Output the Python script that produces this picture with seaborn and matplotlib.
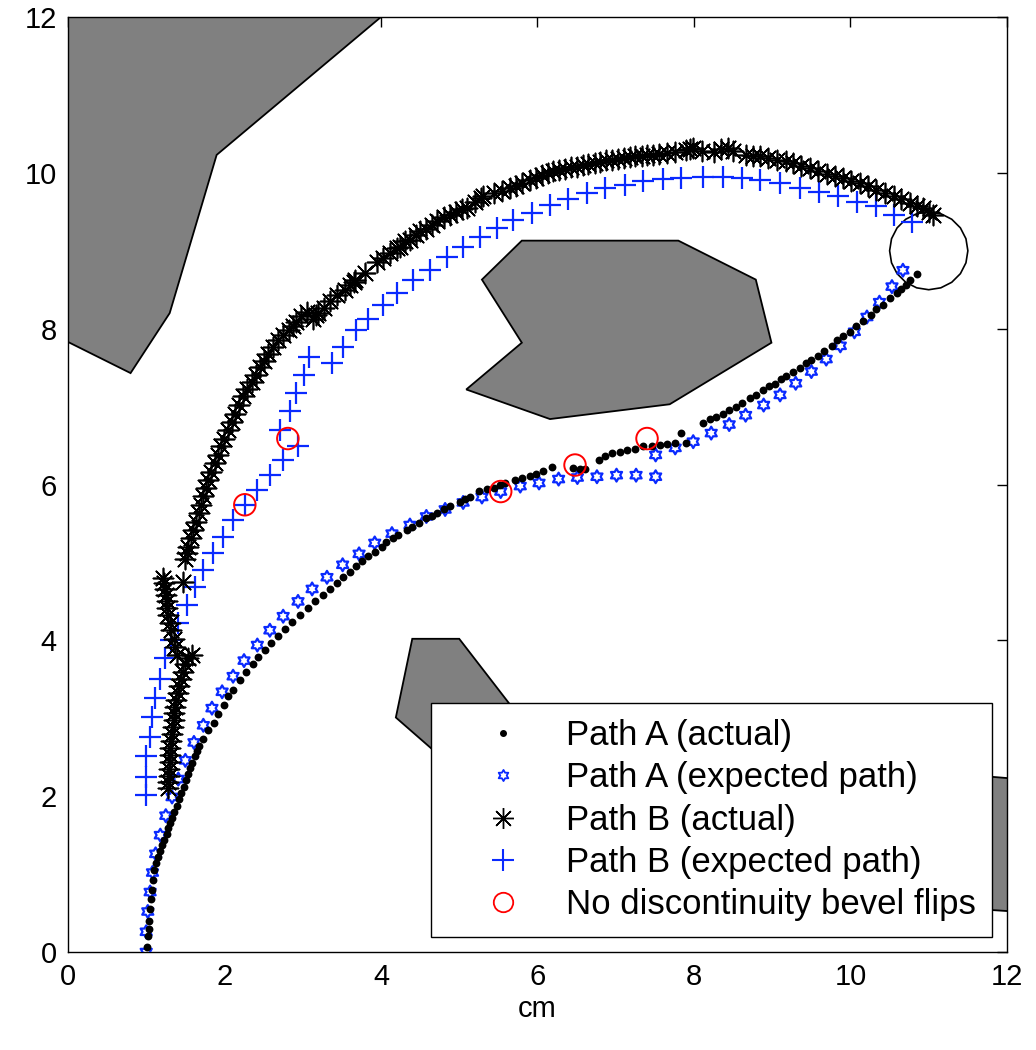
import numpy as np
import matplotlib
matplotlib.use("Agg")
import matplotlib.pyplot as plt
import matplotlib.patches as mpatches
from matplotlib.lines import Line2D
from matplotlib.path import Path
import seaborn as sns

# --- obstacles (cm) ---
obst_top_x = [0, 4.0, 1.9, 1.3, 0.8, 0]
obst_top_y = [12, 12, 10.23, 8.2, 7.43, 7.83]
obst_mid_x = [5.80, 7.80, 8.79, 8.99, 7.69, 6.16, 5.09, 5.80, 5.29]
obst_mid_y = [9.13, 9.13, 8.63, 7.82, 7.03, 6.84, 7.22, 7.82, 8.63]
obst_low_x = [4.40, 5.00, 5.90, 5.00, 4.19]
obst_low_y = [4.02, 4.02, 2.85, 2.30, 3.01]
obst_right_x = [11.79, 12.4, 12.4, 11.79]
obst_right_y = [2.25, 2.20, 0.50, 0.54]
goal_center = (11.0, 9.0)
goal_radius = 0.5

# --- Path A (actual) ---
a_act_x = [1.01, 1.02, 1.03, 1.04, 1.05, 1.06, 1.07, 1.09, 1.10, 1.13, 1.15, 1.17, 1.20, 1.23,
           1.26, 1.28, 1.31, 1.33, 1.36, 1.39, 1.42, 1.45, 1.48, 1.51, 1.54, 1.56, 1.59, 1.62,
           1.65, 1.68, 1.73, 1.79, 1.86, 1.92, 1.99, 2.05, 2.11, 2.20, 2.28, 2.36, 2.43, 2.52,
           2.60, 2.69, 2.77, 2.86, 2.96, 3.07, 3.16, 3.26, 3.35, 3.44, 3.52, 3.60, 3.68, 3.76,
           3.84, 3.92, 4.01, 4.07, 4.15, 4.22, 4.33, 4.40, 4.48, 4.58, 4.65, 4.71, 4.80, 4.88,
           5.01, 5.08, 5.14, 5.25, 5.35, 5.44, 5.52, 5.58, 5.71, 5.80, 5.90, 5.98, 6.07, 6.18,
           6.46, 6.54, 6.61,
           6.78, 6.86, 6.95, 7.05, 7.14, 7.25, 7.35, 7.46, 7.57, 7.66, 7.76, 7.84, 7.90,
           8.11, 8.20, 8.28, 8.37, 8.45, 8.54, 8.62, 8.71, 8.79, 8.88, 8.96, 9.04, 9.11, 9.18,
           9.26, 9.35, 9.43, 9.50, 9.58, 9.66, 9.76, 9.83, 9.90, 9.99, 10.07, 10.16, 10.26,
           10.33, 10.42, 10.51, 10.59, 10.65, 10.71, 10.76, 10.85]
a_act_y = [0.07, 0.20, 0.30, 0.40, 0.55, 0.68, 0.80, 0.93, 1.05, 1.14, 1.22, 1.30, 1.37, 1.44,
           1.52, 1.59, 1.66, 1.72, 1.80, 1.87, 1.96, 2.04, 2.12, 2.21, 2.28, 2.36, 2.43, 2.51,
           2.58, 2.64, 2.74, 2.85, 2.94, 3.06, 3.17, 3.28, 3.36, 3.49, 3.60, 3.70, 3.79, 3.88,
           3.96, 4.05, 4.14, 4.23, 4.32, 4.42, 4.50, 4.58, 4.66, 4.74, 4.81, 4.88, 4.95, 5.02,
           5.08, 5.14, 5.20, 5.26, 5.31, 5.35, 5.42, 5.46, 5.50, 5.57, 5.60, 5.63, 5.68, 5.72,
           5.78, 5.81, 5.84, 5.92, 5.94, 5.96, 6.00, 6.02, 6.06, 6.09, 6.11, 6.13, 6.17, 6.22,
           6.21, 6.20, 6.20,
           6.32, 6.37, 6.40, 6.42, 6.44, 6.46, 6.49, 6.50, 6.51, 6.52, 6.53, 6.66, 6.53,
           6.79, 6.84, 6.87, 6.91, 6.96, 7.00, 7.05, 7.11, 7.15, 7.21, 7.26, 7.29, 7.35, 7.39,
           7.45, 7.50, 7.56, 7.60, 7.65, 7.71, 7.78, 7.85, 7.90, 7.96, 8.03, 8.10, 8.18,
           8.25, 8.31, 8.40, 8.46, 8.51, 8.56, 8.63, 8.70]

# --- Path A (expected path) ---
a_exp_x = [1.00, 1.00, 1.02, 1.05, 1.08, 1.12, 1.18, 1.25, 1.33, 1.41, 1.50, 1.61, 1.73, 1.84,
           1.97, 2.11, 2.25, 2.42, 2.58, 2.75, 2.94, 3.12, 3.31, 3.51, 3.72, 3.92, 4.14, 4.37,
           4.58, 4.82, 5.05, 5.29, 5.53, 5.78, 6.02, 6.27, 6.51, 6.76, 7.01, 7.26, 7.51,
           7.51, 7.76, 7.99, 8.22, 8.45, 8.66, 8.89, 9.10, 9.30, 9.50, 9.69, 9.87, 10.05,
           10.21, 10.37, 10.53, 10.67]
a_exp_y = [0.00, 0.26, 0.52, 0.77, 1.02, 1.26, 1.50, 1.75, 1.99, 2.22, 2.46, 2.69, 2.91, 3.13,
           3.34, 3.54, 3.74, 3.94, 4.13, 4.31, 4.50, 4.66, 4.81, 4.97, 5.11, 5.25, 5.37, 5.48,
           5.59, 5.68, 5.77, 5.84, 5.91, 5.98, 6.02, 6.07, 6.09, 6.10, 6.12, 6.12, 6.10,
           6.38, 6.47, 6.55, 6.66, 6.77, 6.89, 7.02, 7.15, 7.30, 7.45, 7.61, 7.78, 7.96,
           8.15, 8.34, 8.54, 8.75]

# --- Path B (actual) ---
b_act_x = [1.28, 1.28, 1.29, 1.29, 1.30, 1.31, 1.31, 1.32, 1.33, 1.34, 1.35, 1.36, 1.37, 1.38,
           1.40, 1.42, 1.44, 1.47, 1.50, 1.54, 1.58,
           1.39, 1.37, 1.35, 1.32, 1.30, 1.28, 1.27, 1.26, 1.25, 1.24, 1.23, 1.22, 1.47,
           1.50, 1.52, 1.54, 1.57, 1.60, 1.63, 1.67, 1.70, 1.73, 1.76, 1.79, 1.83, 1.88, 1.92,
           1.96, 2.00, 2.05, 2.09, 2.13, 2.18, 2.24, 2.29, 2.35, 2.40, 2.45, 2.50, 2.56, 2.62,
           2.69, 2.75, 2.82, 2.87, 2.92, 2.98, 3.05, 3.13, 3.17, 3.20, 3.27, 3.35, 3.44, 3.54,
           3.60, 3.65, 3.67, 3.80, 3.95, 4.03, 4.12, 4.20, 4.24, 4.31, 4.37, 4.45, 4.50, 4.58,
           4.65, 4.72, 4.80, 4.88, 4.96, 5.03, 5.10, 5.20, 5.28, 5.31, 5.45, 5.55, 5.65, 5.72,
           5.80, 5.90, 5.98, 6.06, 6.13, 6.20, 6.28, 6.35, 6.43, 6.50, 6.58, 6.65, 6.73, 6.80,
           6.88, 6.95, 7.03, 7.10, 7.18, 7.25, 7.33, 7.40, 7.48, 7.55, 7.65, 7.76, 7.90, 7.95,
           7.99, 8.10, 8.25, 8.35, 8.44, 8.50, 8.67, 8.76, 8.84, 8.95, 9.06, 9.17, 9.27, 9.37,
           9.48, 9.59, 9.70, 9.80, 9.91, 10.01, 10.12, 10.22, 10.33, 10.44, 10.55, 10.65, 10.76,
           10.85, 10.93, 11.00, 11.06]
b_act_y = [2.10, 2.18, 2.26, 2.35, 2.44, 2.53, 2.62, 2.71, 2.80, 2.89, 2.98, 3.07, 3.15, 3.24,
           3.33, 3.42, 3.51, 3.60, 3.70, 3.78, 3.81,
           3.81, 3.92, 4.02, 4.13, 4.22, 4.32, 4.42, 4.50, 4.58, 4.66, 4.74, 4.80, 4.75,
           5.05, 5.12, 5.20, 5.31, 5.42, 5.52, 5.63, 5.74, 5.85, 5.95, 6.06, 6.16, 6.27, 6.38,
           6.49, 6.59, 6.70, 6.80, 6.91, 7.02, 7.13, 7.22, 7.32, 7.41, 7.51, 7.59, 7.68, 7.77,
           7.86, 7.92, 7.98, 8.04, 8.09, 8.16, 8.22, 8.13, 8.17, 8.20, 8.27, 8.35, 8.43, 8.50,
           8.56, 8.60, 8.63, 8.72, 8.86, 8.91, 8.97, 9.03, 9.05, 9.12, 9.14, 9.20, 9.25, 9.28,
           9.33, 9.38, 9.43, 9.46, 9.50, 9.53, 9.55, 9.62, 9.68, 9.70, 9.74, 9.77, 9.80, 9.83,
           9.87, 9.91, 9.94, 9.97, 10.00, 10.02, 10.04, 10.05, 10.07, 10.08, 10.10, 10.11, 10.13,
           10.14, 10.16, 10.17, 10.18, 10.19, 10.20, 10.21, 10.22, 10.23, 10.23, 10.24, 10.25,
           10.27, 10.29, 10.30, 10.32, 10.28, 10.27, 10.30, 10.32, 10.28, 10.23, 10.22, 10.21,
           10.19, 10.17, 10.15, 10.12, 10.09, 10.06, 10.03, 9.99, 9.96, 9.93, 9.90, 9.87, 9.83,
           9.78, 9.74, 9.70, 9.66, 9.61, 9.58, 9.55, 9.50, 9.46]

# --- Path B (expected path) ---
b_exp_x = [1.00, 1.00, 1.00, 1.05, 1.07, 1.11, 1.18, 1.24, 1.32, 1.41, 1.52, 1.62, 1.72, 1.85,
           1.98, 2.11, 2.26, 2.41, 2.58, 2.75, 2.94, 2.71, 2.84, 2.92, 3.01, 3.08, 3.37, 3.52,
           3.68, 3.84, 4.03, 4.20, 4.41, 4.63, 4.84, 5.05, 5.27, 5.48, 5.69, 5.93, 6.16, 6.39,
           6.63, 6.86, 7.12, 7.35, 7.60, 7.84, 8.12, 8.37, 8.61, 8.84, 9.10, 9.35, 9.60, 9.84,
           10.08, 10.33, 10.55, 10.78]
b_exp_y = [2.01, 2.25, 2.51, 2.76, 3.02, 3.26, 3.51, 3.77, 4.00, 4.22, 4.45, 4.69, 4.90, 5.12,
           5.33, 5.55, 5.74, 5.93, 6.12, 6.32, 6.49, 6.70, 6.94, 7.17, 7.41, 7.64, 7.56, 7.77,
           7.98, 8.13, 8.30, 8.46, 8.62, 8.75, 8.92, 9.05, 9.18, 9.29, 9.40, 9.48, 9.59, 9.67,
           9.74, 9.80, 9.85, 9.89, 9.92, 9.93, 9.95, 9.95, 9.93, 9.91, 9.87, 9.80, 9.76, 9.70,
           9.63, 9.57, 9.46, 9.37]

# --- no discontinuity bevel flips ---
flip_x = [2.26, 2.81, 5.53, 6.48, 7.40]
flip_y = [5.74, 6.59, 5.91, 6.25, 6.59]

labels = ["Path A (actual)", "Path A (expected path)", "Path B (actual)",
          "Path B (expected path)", "No discontinuity bevel flips"]

sns.set_style("white")
plt.rcParams["font.family"] = ["Liberation Sans", "DejaVu Sans"]
plt.rcParams["text.color"] = "black"
plt.rcParams["axes.labelcolor"] = "black"

# hexagram marker (MATLAB style six-pointed star)
ang = np.deg2rad(90 + 30 * np.arange(12))
rad = np.where(np.arange(12) % 2 == 0, 1.0, 0.577)
hex_verts = np.column_stack([rad * np.cos(ang), rad * np.sin(ang)])
hexagram = Path(np.vstack([hex_verts, hex_verts[:1]]), closed=True)

fig = plt.figure(figsize=(10.36, 10.5), dpi=100)
ax = fig.add_axes([0.0656, 0.0933, 0.9064, 0.8905])

gray = "#808080"
for px, py in [(obst_top_x, obst_top_y), (obst_mid_x, obst_mid_y),
               (obst_low_x, obst_low_y), (obst_right_x, obst_right_y)]:
    ax.fill(px, py, facecolor=gray, edgecolor="black", linewidth=1.3, zorder=1)
ax.add_patch(mpatches.CirclePolygon(goal_center, goal_radius, resolution=20,
                                    fill=False, edgecolor="black", linewidth=1.2, zorder=2))

blue = "#0a2aff"
sns.scatterplot(x=a_act_x, y=a_act_y, marker="o", s=32, color="black", linewidth=0, ax=ax, zorder=4)
sns.scatterplot(x=a_exp_x, y=a_exp_y, marker=hexagram, s=85, color=blue, facecolor="none",
                edgecolor=blue, linewidth=1.6, ax=ax, zorder=3)
sns.scatterplot(x=b_act_x, y=b_act_y, marker=(8, 2, 0), s=210, color="black", linewidth=1.2,
                ax=ax, zorder=4)
sns.scatterplot(x=b_exp_x, y=b_exp_y, marker="+", s=230, color=blue, linewidth=1.6, ax=ax, zorder=3)
sns.scatterplot(x=flip_x, y=flip_y, marker="o", s=240, color="red", facecolor="none",
                edgecolor="red", linewidth=1.4, ax=ax, zorder=5)

ax.set_xlim(0, 12)
ax.set_ylim(0, 12)
ax.set_xticks(range(0, 13, 2))
ax.set_yticks(range(0, 13, 2))
ax.tick_params(direction="in", length=7, width=1, top=True, right=True,
               labelsize=21, colors="black", pad=8)
for sp in ax.spines.values():
    sp.set_color("black")
    sp.set_linewidth(1.0)
ax.set_xlabel("cm", fontsize=21, labelpad=3, color="black")

handles = [
    Line2D([], [], ls="none", marker="o", ms=4, mfc="black", mec="black"),
    Line2D([], [], ls="none", marker=hexagram, ms=8, mfc="none", mec=blue, mew=1.3),
    Line2D([], [], ls="none", marker=(8, 2, 0), ms=15, color="black", mew=1.0),
    Line2D([], [], ls="none", marker="+", ms=16, color=blue, mew=1.5),
    Line2D([], [], ls="none", marker="o", ms=14, mfc="none", mec="red", mew=1.3),
]
leg = ax.legend(handles, labels, loc="lower right", bbox_to_anchor=(0.984, 0.016),
                borderaxespad=0, fontsize=25, frameon=True, fancybox=False,
                framealpha=1, edgecolor="black", handlelength=3.25, handletextpad=0.19,
                labelspacing=0.27, borderpad=0.45, labelcolor="black")
leg.get_frame().set_linewidth(1.0)
leg.set_zorder(10)

fig.savefig("out.png", dpi=100, facecolor="white")
